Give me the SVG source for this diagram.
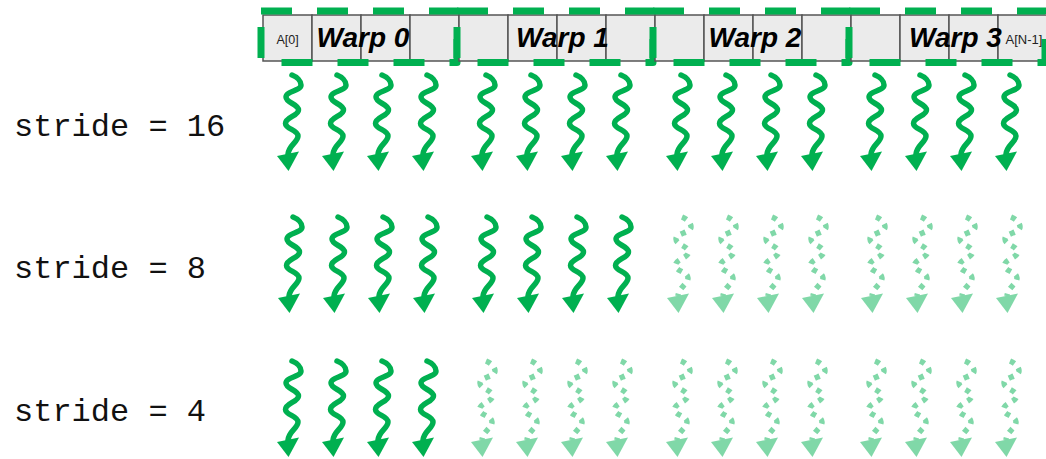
<svg xmlns="http://www.w3.org/2000/svg" xmlns:xlink="http://www.w3.org/1999/xlink" width="1046" height="459" viewBox="0 0 1046 459">
<style>
.cell{fill:#ebebeb;stroke:#555;stroke-width:1.5}
.wrp{fill:none;stroke:#00b050;stroke-width:7;stroke-dasharray:31 25;stroke-linejoin:round}
.wt{font-family:"Liberation Sans",Arial,sans-serif;font-weight:bold;font-style:italic;font-size:28px;fill:#000;text-anchor:middle}
.ct{font-family:"Liberation Sans",Arial,sans-serif;font-size:12.5px;fill:#222;text-anchor:middle}
.st{font-family:"Liberation Mono","Courier New",monospace;font-size:32px;fill:#111}
.ws{fill:none;stroke:#00b050;stroke-width:5.5;stroke-linecap:round}
.wl{fill:none;stroke:#80d8a8;stroke-width:5.5;stroke-dasharray:5 6}
.hs{fill:#00b050}
.hl{fill:#80d8a8}
</style>
<defs>
<g id="wS"><path class="ws" d="M0,0 C5,2 9,6 9,10 C9,16 -6,16 -6,22 C-6,28 6.5,29 6.5,35 C6.5,41 -6.5,42 -6.5,48.5 C-6.5,54 6,55 6,61 C6,67 -3,70 -4,79"/><polygon class="hs" points="-15,81 7,76.5 -3.5,96"/></g>
<g id="wL"><path class="wl" d="M0,0 C5,2 9,6 9,10 C9,16 -6,16 -6,22 C-6,28 6.5,29 6.5,35 C6.5,41 -6.5,42 -6.5,48.5 C-6.5,54 6,55 6,61 C6,67 -3,70 -4,79"/><polygon class="hl" points="-15,81 7,76.5 -3.5,96"/></g>
</defs>
<g id="warp0">
<rect class="cell" x="263" y="15" width="49" height="46"/><rect class="cell" x="312" y="15" width="49" height="46"/><rect class="cell" x="361" y="15" width="49" height="46"/><rect class="cell" x="410" y="15" width="49" height="46"/>
<rect class="wrp" x="261" y="11" width="196" height="51.5"/>
<text class="ct" x="287.5" y="44">A[0]</text>
<text class="wt" x="363" y="47">Warp 0</text>
</g>
<g id="warp1">
<rect class="cell" x="459" y="15" width="49" height="46"/><rect class="cell" x="508" y="15" width="49" height="46"/><rect class="cell" x="557" y="15" width="49" height="46"/><rect class="cell" x="606" y="15" width="49" height="46"/>
<rect class="wrp" x="457" y="11" width="196" height="51.5"/>
<text class="wt" x="562.5" y="47">Warp 1</text>
</g>
<g id="warp2">
<rect class="cell" x="655" y="15" width="49" height="46"/><rect class="cell" x="704" y="15" width="49" height="46"/><rect class="cell" x="753" y="15" width="49" height="46"/><rect class="cell" x="802" y="15" width="49" height="46"/>
<rect class="wrp" x="653" y="11" width="196" height="51.5"/>
<text class="wt" x="755" y="47">Warp 2</text>
</g>
<g id="warp3">
<rect class="cell" x="851" y="15" width="49" height="46"/><rect class="cell" x="900" y="15" width="49" height="46"/><rect class="cell" x="949" y="15" width="49" height="46"/><rect class="cell" x="998" y="15" width="49" height="46"/>
<rect class="wrp" x="849" y="11" width="196" height="51.5"/>
<text class="wt" x="955.5" y="47">Warp 3</text>
<text class="ct" x="1024" y="44" style="font-size:13px">A[N-1]</text>
</g>
<g id="label16"><text class="st" x="14" y="136">stride = 16</text></g>
<g id="label8"><text class="st" x="14" y="278">stride = 8</text></g>
<g id="label4"><text class="st" x="14" y="421">stride = 4</text></g>
<g id="connectors">
<use href="#wS" x="292" y="75"/><use href="#wS" x="337" y="75"/><use href="#wS" x="382" y="75"/><use href="#wS" x="427" y="75"/>
<use href="#wS" x="486" y="75"/><use href="#wS" x="531" y="75"/><use href="#wS" x="576" y="75"/><use href="#wS" x="621" y="75"/>
<use href="#wS" x="681" y="75"/><use href="#wS" x="726" y="75"/><use href="#wS" x="771" y="75"/><use href="#wS" x="816" y="75"/>
<use href="#wS" x="875" y="75"/><use href="#wS" x="920" y="75"/><use href="#wS" x="965" y="75"/><use href="#wS" x="1010" y="75"/>
<use href="#wS" x="293" y="217"/><use href="#wS" x="338" y="217"/><use href="#wS" x="383" y="217"/><use href="#wS" x="428" y="217"/>
<use href="#wS" x="487" y="217"/><use href="#wS" x="532" y="217"/><use href="#wS" x="577" y="217"/><use href="#wS" x="622" y="217"/>
<use href="#wL" x="682" y="217"/><use href="#wL" x="727" y="217"/><use href="#wL" x="772" y="217"/><use href="#wL" x="817" y="217"/>
<use href="#wL" x="876" y="217"/><use href="#wL" x="921" y="217"/><use href="#wL" x="966" y="217"/><use href="#wL" x="1011" y="217"/>
<use href="#wS" x="292" y="361"/><use href="#wS" x="337" y="361"/><use href="#wS" x="382" y="361"/><use href="#wS" x="427" y="361"/>
<use href="#wL" x="486" y="361"/><use href="#wL" x="531" y="361"/><use href="#wL" x="576" y="361"/><use href="#wL" x="621" y="361"/>
<use href="#wL" x="681" y="361"/><use href="#wL" x="726" y="361"/><use href="#wL" x="771" y="361"/><use href="#wL" x="816" y="361"/>
<use href="#wL" x="875" y="361"/><use href="#wL" x="920" y="361"/><use href="#wL" x="965" y="361"/><use href="#wL" x="1010" y="361"/>
</g>
</svg>
